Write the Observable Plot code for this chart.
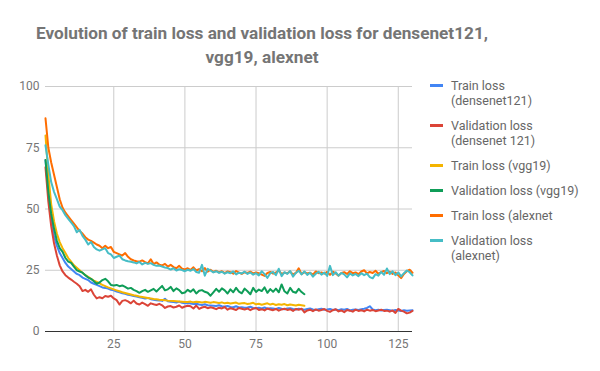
<!DOCTYPE html>
<html><head><meta charset="utf-8">
<script src="https://cdn.jsdelivr.net/npm/d3@7"></script>
<script src="https://cdn.jsdelivr.net/npm/@observablehq/plot@0.6"></script>
<style>
body{margin:0;background:#fff;font-family:Roboto,sans-serif;}
#wrap{position:relative;width:600px;height:371px;overflow:hidden;}
#title{position:absolute;left:0;top:21px;width:524px;text-align:center;font-weight:bold;font-size:17.2px;line-height:24px;color:#757575;white-space:nowrap;}
#chart{position:absolute;left:0;top:70px;}
#legend{position:absolute;left:430px;top:78px;font-size:12.5px;line-height:15px;color:#666;}
.item{position:relative;padding-left:21px;margin-bottom:10px;width:130px;}
.sw{position:absolute;left:0;top:6px;width:13px;height:3px;}
</style>
</head><body>
<div id="wrap">
  <div id="title"></div>
  <div id="chart"></div>
  <div id="legend"></div>
</div>
<script>
const titleLines = ["Evolution of train loss and validation loss for densenet121,", "vgg19, alexnet"];
const seriesNames = ["Train loss (densenet121)", "Validation loss (densenet 121)", "Train loss (vgg19)", "Validation loss (vgg19)", "Train loss (alexnet", "Validation loss (alexnet)"];
const seriesColors = ["#4285F4", "#DB4437", "#F4B400", "#0F9D58", "#FF6D00", "#46BDC6"];
const xTicks = [25, 50, 75, 100, 125];
const yTicks = [0, 25, 50, 75, 100];

const trainDensenet = [
  70, 56, 46, 39, 35, 32, 30, 28, 26.5, 25.5,
  24.5, 23.5, 23, 22, 21.5, 21, 20, 19.5, 19, 18.5,
  18, 17.8, 17.5, 17, 16.8, 16.3, 16, 15.6, 15.4, 15,
  14.8, 14.5, 14.3, 14, 13.8, 13.5, 13.7, 13.2, 13, 12.8,
  12.7, 12.5, 13.4, 12.3, 12.1, 12, 11.8, 12.2, 11.7, 11.5,
  11.6, 11.4, 11.2, 11.3, 11, 10.8, 11.1, 10.7, 10.6, 10.5,
  10.4, 10.7, 10.3, 10.2, 10.4, 10, 9.9, 10.3, 9.8, 9.9,
  9.7, 9.8, 10.1, 9.6, 9.5, 9.7, 9.4, 9.8, 9.3, 9.5,
  9.4, 9.2, 9.6, 9.3, 9.1, 9.4, 9.5, 9.2, 9.0, 9.3,
  9.1, 8.9, 9.2, 9.4, 9.0, 8.8, 9.1, 9.3, 8.9, 9.0,
  9.2, 8.8, 9.0, 8.7, 9.1, 8.9, 9.2, 8.6, 8.9, 9.0,
  8.8, 9.1, 9.3, 9.6, 10.3, 9.0, 8.7, 8.9, 8.6, 8.8,
  8.9, 8.7, 8.5, 8.8, 8.6, 8.4, 8.7, 8.5, 8.6, 8.7
];
const valDensenet = [
  67, 53, 43, 36, 31, 27, 24.5, 23, 22, 21.2,
  20.3, 19.5, 18.5, 16.5, 17, 16.2, 17.2, 15, 13.5, 14,
  13.6, 14.5, 14.2, 14.6, 13.5, 12.8, 11, 12.5, 12.8, 12.3,
  11.5, 12.6, 11.4, 11, 11.8, 11.2, 10.5, 11.5, 11.1, 10.8,
  11.3, 10.7, 9.6, 10.2, 10.4, 9.8, 10.1, 10.6, 9.7, 10.2,
  10.5, 10.3, 9.4, 10.6, 9.2, 9.8, 10.1, 9.5, 9.9, 9.6,
  9.1, 9.7, 9.4, 10.0, 8.9, 9.5, 9.2, 8.8, 9.6, 9.3,
  9.0, 9.4, 8.7, 9.3, 9.6, 8.8, 9.1, 8.6, 9.4, 9.0,
  8.7, 9.2, 8.5, 9.0, 9.3, 8.8, 9.1, 8.4, 9.2, 8.9,
  9.3, 7.8, 8.6, 8.9, 8.3, 9.0, 8.5, 8.8, 9.2, 8.4,
  8.0, 8.7, 9.1, 8.2, 8.6, 7.9, 8.8, 8.5, 8.1, 8.9,
  8.4, 8.7, 8.2, 8.9, 8.5, 8.8, 8.3, 8.6, 8.9, 8.4,
  8.5, 8.1, 8.6, 7.6, 9.2, 8.5, 8.1, 7.4, 7.7, 8.4
];
const trainVgg = [
  80, 64, 52, 45, 40, 36.5, 34, 32, 30, 28.5,
  27, 26, 25, 24, 23, 22.3, 21.5, 20.8, 20.2, 19.6,
  19, 18.5, 18, 17.6, 17.2, 16.8, 16.4, 16.0, 15.7, 15.4,
  15.1, 14.8, 14.6, 14.3, 14.1, 13.9, 13.7, 13.5, 13.3, 13.2,
  13.0, 12.9, 12.8, 12.6, 12.5, 12.4, 12.3, 12.2, 12.1, 12.0,
  12.0, 12.2, 11.9, 12.1, 12.0, 11.8, 12.1, 11.9, 11.7, 12.0,
  11.8, 11.6, 11.9, 11.5, 11.7, 11.4, 11.6, 11.8, 11.3, 11.5,
  11.6, 11.2, 11.4, 11.7, 11.1, 11.3, 10.9, 11.2, 11.5, 11.0,
  11.3, 10.8, 11.1, 10.9, 11.2, 10.7, 11.0, 10.8, 10.6, 10.9,
  10.7, 10.5
];
const valVgg = [
  70, 57, 48, 42, 37, 34, 32.5, 30, 28.5, 28,
  26.5, 25, 24.5, 24, 23, 22, 21.5, 20.5, 19.5, 20,
  21, 21.5, 20.5, 19, 18.8, 19, 18.5, 18.8, 18.2, 17.5,
  17.8, 17, 16.5, 15.8, 16.5, 17, 16.2, 16.8, 17.4, 16.3,
  17.5, 18.6, 16.8, 17.2, 18.2, 16.5, 17.6, 16.9, 15.6, 15.9,
  17, 16.2, 17.2, 15.5, 16.6, 16.9, 16.2, 15.8, 14.6, 16,
  17.4, 16.2, 17.6, 16.8, 15.5, 17.2, 16, 17.8, 16.3, 15.6,
  17.5, 16.4, 15.2, 17.8, 16.1, 17.1, 16.5, 18, 15.8, 17.3,
  16.2, 17.5, 16, 19.2, 16.4, 15.5, 17.8, 16.2, 15.8, 17.4,
  16.1, 15.2
];
const trainAlexnet = [
  87, 75, 69, 64, 59, 54, 50.5, 48.5, 47, 45.5,
  44, 42.5, 41, 40, 38.5, 37.5, 37, 36.3, 35.5, 35,
  34, 35, 34, 34.5, 32.5, 32, 31.5, 31, 32, 30.5,
  29.5, 29, 28.7, 28.5, 29, 28.3, 27.8, 29.5, 27.5, 28.2,
  27.3, 27, 27.6, 26.5, 27.2, 26.3, 25.8, 26.8, 25.6, 25.3,
  25.8, 25.1, 26.2, 24.9, 25.5, 24.6, 25.9, 24.4, 25.2, 24.3,
  24.8, 24.1, 24.6, 23.8, 24.5, 24.2, 23.6, 24.7, 24.0, 23.5,
  24.2, 23.9, 24.4, 23.7, 24.1, 23.8, 23.2, 22.7, 23.9, 24.3,
  23.6, 24.1, 24.8, 23.5, 24.0, 23.8, 24.4, 23.3, 23.9, 25.8,
  23.4, 24.2, 23.7, 24.0, 23.2, 24.5, 23.8, 24.1, 23.6, 24.3,
  23.1, 24.4, 23.7, 22.8, 23.9, 24.2, 23.5, 24.6, 23.8, 24.1,
  23.4, 24.5, 25.0, 23.7, 24.3, 23.9, 24.8, 23.6, 24.2, 24.7,
  23.8, 24.4, 23.5, 24.1, 22.9, 21.8, 23.5, 24.6, 25.2, 24.0
];
const valAlexnet = [
  76, 68, 61, 57, 54, 51, 49.5, 47.5, 46, 44.5,
  43, 40.5, 41.5, 39, 37.5, 35.5, 36.5, 34.5, 33.5, 33,
  33.5, 34, 32, 31.5, 30, 30.5, 31, 29.5, 29, 28.7,
  28.5, 28.2, 27.8, 28.4, 27.4, 28.0, 27.6, 27.9, 27.2, 26.8,
  26.9, 26.5, 26.1, 25.9, 25.3, 25.8, 24.9, 25.4, 25.1, 24.6,
  25.2, 24.8, 25.5, 24.3, 24.0, 27.2, 22.8, 25.6, 24.9, 24.1,
  24.6, 23.9, 24.4, 23.6, 24.2, 23.8, 24.5, 23.3, 24.0, 23.7,
  24.4, 23.5, 24.1, 23.2, 23.8, 22.9, 24.6, 23.4, 21.9, 23.8,
  24.3, 23.0, 25.6, 22.6, 24.2, 23.5, 24.7, 22.4, 23.9, 24.8,
  23.3, 24.5, 23.1, 24.0, 22.4, 23.6, 24.4, 23.2, 24.1, 22.7,
  26.8, 23.0, 24.2, 22.8, 23.9, 23.3, 22.1, 23.7, 22.9, 23.5,
  22.6, 23.8, 23.0, 23.6, 22.2, 21.7, 23.4, 22.8, 24.3, 23.1,
  25.7, 23.4, 24.6, 23.0, 24.1, 22.5, 23.8, 24.9, 24.2, 22.9
];

const seriesValues = [trainDensenet, valDensenet, trainVgg, valVgg, trainAlexnet, valAlexnet];
const rows = [];
seriesValues.forEach((vals, s) => vals.forEach((v, i) => rows.push({epoch: i + 1, value: v, series: seriesNames[s]})));

const titleEl = document.getElementById("title");
titleLines.forEach(t => { const d = document.createElement("div"); d.textContent = t; titleEl.appendChild(d); });

const chart = Plot.plot({
  width: 600, height: 301,
  marginTop: 16, marginBottom: 40, marginLeft: 45, marginRight: 188,
  style: {fontFamily: "Roboto", fontSize: "12px", color: "#757575", background: "transparent"},
  x: {domain: [1, 130], label: null},
  y: {domain: [0, 100], label: null},
  color: {domain: seriesNames, range: seriesColors},
  marks: [
    Plot.gridX(xTicks, {stroke: "#cccccc", strokeOpacity: 1}),
    Plot.gridY(yTicks.filter(d => d > 0), {stroke: "#cccccc", strokeOpacity: 1}),
    Plot.axisX(xTicks, {tickSize: 0, tickPadding: 8, label: null, fontSize: 12}),
    Plot.axisY(yTicks, {tickSize: 0, tickPadding: 6, label: null, fontSize: 12}),
    Plot.ruleY([0], {stroke: "#333333", strokeWidth: 1}),
    Plot.line(rows, {x: "epoch", y: "value", z: "series", stroke: "series", strokeWidth: 2, curve: "linear"})
  ]
});
document.getElementById("chart").appendChild(chart);

const legend = document.getElementById("legend");
seriesNames.forEach((n, i) => {
  const it = document.createElement("div");
  it.className = "item";
  const sw = document.createElement("div");
  sw.className = "sw";
  sw.style.background = seriesColors[i];
  it.appendChild(sw);
  it.appendChild(document.createTextNode(n));
  legend.appendChild(it);
});
</script>
</body></html>
